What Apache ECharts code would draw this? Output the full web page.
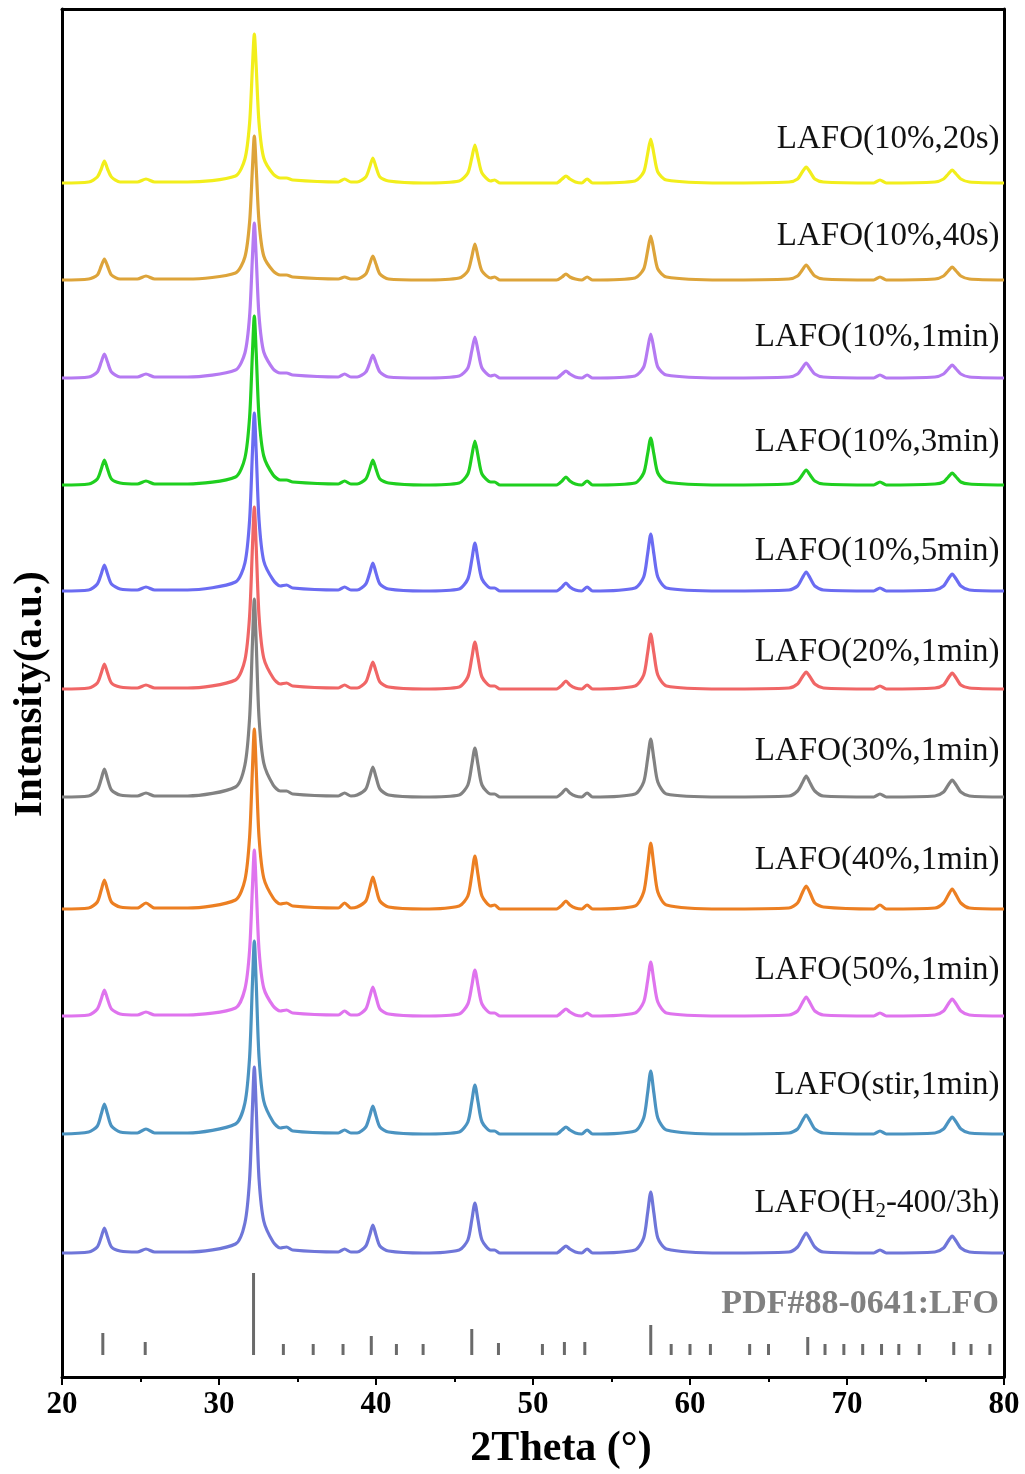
<!DOCTYPE html>
<html>
<head>
<meta charset="utf-8">
<script src="https://cdn.jsdelivr.net/npm/echarts@6/dist/echarts.min.js"></script>
<style>
html,body{margin:0;padding:0;background:#fff;}
#chart{width:1025px;height:1474px;}
</style>
</head>
<body>
<div id="chart"></div>
<script>
// ---------------- DATA ----------------
const twoTheta = [20.0, 21.7, 22.25, 22.5, 22.7, 22.9, 23.15, 23.7, 24.8, 25.35, 25.9, 28.0,
  31.05, 31.65, 31.95, 32.13, 32.25, 32.37, 32.55, 32.85, 33.45, 33.9, 34.3, 34.7,
  37.6, 38.0, 38.4, 38.8, 39.35, 39.6, 39.8, 40.0, 40.25, 40.8, 43.0,
  45.3, 45.85, 46.1, 46.3, 46.5, 46.75, 47.3, 47.55, 47.9, 50.0,
  51.5, 51.85, 52.1, 52.35, 52.7, 53.1, 53.45, 53.8,
  56.5, 57.05, 57.3, 57.5, 57.7, 57.95, 58.5, 62.0,
  66.3, 66.85, 67.15, 67.4, 67.65, 67.95, 68.5, 71.7, 72.1, 72.5,
  75.6, 76.15, 76.45, 76.7, 76.95, 77.25, 77.8, 80.0];

const sampleNames = ['LAFO(10%,20s)', 'LAFO(10%,40s)', 'LAFO(10%,1min)', 'LAFO(10%,3min)',
  'LAFO(10%,5min)', 'LAFO(20%,1min)', 'LAFO(30%,1min)', 'LAFO(40%,1min)',
  'LAFO(50%,1min)', 'LAFO(stir,1min)', 'LAFO(H2-400/3h)'];

// vertical stacking offsets (a.u.)
const offsets = [1194, 1097, 999, 892, 786, 688, 580, 468, 361, 243, 124];

const int_10_20s = [0, 1,6,14,22,14,6,1, 1,4,1, 1, 7,24,60,116,149,116,60,25,9, 5,5,3, 1,4,1, 1,6,16,25,16,6,2, 0, 2,10,25,38,25,10,2, 3,0, 0, 0,4,7,4,1, 0,4,0, 2,11,29,44,29,11,3, 0, 1,4,11,16,11,4,1, 0,3,0, 1,4,9,13,9,4,1, 0];
const int_10_40s = [0, 1,5,14,21,14,5,1, 1,4,1, 1, 7,23,58,112,144,112,58,24,9, 5,5,3, 1,3,1, 1,6,16,24,16,6,1, 0, 2,9,23,36,23,9,2, 3,0, 0, 0,3,6,3,1, 0,3,0, 2,11,29,44,29,11,3, 0, 1,4,10,15,10,4,1, 0,3,0, 1,4,9,13,9,4,1, 0];
const int_10_1min = [0, 1,6,16,24,16,6,1, 1,4,1, 1, 8,25,62,121,155,121,62,26,9, 5,5,3, 1,4,1, 1,6,15,23,15,6,1, 0, 2,10,27,41,27,10,2, 3,0, 0, 0,4,7,4,1, 0,3,0, 2,11,29,44,29,11,3, 0, 1,4,10,15,10,4,1, 0,3,0, 1,4,9,13,9,4,1, 0];
const int_10_3min = [0, 1,6,16,25,16,6,2, 1,4,1, 1, 8,27,68,132,169,132,68,29,10, 5,5,3, 1,4,1, 1,6,16,25,16,6,2, 0, 2,11,29,44,29,11,3, 3,0, 0, 0,4,8,4,1, 0,4,0, 2,12,31,47,31,12,3, 0, 1,4,10,15,10,4,1, 0,3,0, 1,3,8,12,8,3,1, 0];
const int_10_5min = [0, 1,7,17,26,17,7,2, 1,4,1, 1, 9,28,71,139,178,139,71,30,11, 5,6,3, 1,4,1, 1,7,18,28,18,7,2, 0, 2,12,31,48,31,12,3, 3,0, 0, 0,4,8,4,1, 0,4,0, 3,14,37,57,37,14,3, 0, 1,5,13,19,13,5,1, 0,3,0, 1,5,12,17,12,5,1, 0];
const int_20_1min = [0, 1,6,16,25,16,6,2, 1,4,1, 1, 9,29,73,142,182,142,73,31,11, 5,6,3, 1,4,1, 1,7,18,27,18,7,2, 0, 2,12,31,47,31,12,3, 3,0, 0, 0,4,8,4,1, 0,4,0, 3,14,36,55,36,14,3, 0, 1,5,12,17,12,5,1, 0,3,0, 1,4,11,16,11,4,1, 0];
const int_30_1min = [0, 1,7,18,28,18,7,2, 1,4,1, 1, 10,32,79,154,198,154,79,34,12, 6,6,3, 1,4,1, 2,8,20,30,20,8,2, 0, 2,12,32,49,32,12,3, 3,0, 0, 0,4,8,4,1, 0,4,0, 3,15,38,58,38,15,3, 0, 1,6,14,21,14,6,1, 0,3,0, 1,5,12,17,12,5,1, 0];
const int_40_1min = [0, 1,7,19,29,19,7,2, 1,6,1, 1, 9,29,72,140,180,140,72,31,11, 5,6,3, 1,6,1, 2,8,21,32,21,8,2, 0, 3,13,34,53,34,13,3, 4,0, 0, 0,4,8,4,1, 0,4,0, 3,17,43,66,43,17,4, 0, 1,6,16,23,16,6,2, 0,4,0, 1,6,14,20,14,6,1, 0];
const int_50_1min = [0, 1,7,17,26,17,7,2, 1,4,1, 1, 8,27,66,129,166,129,66,28,10, 5,6,3, 1,5,1, 1,7,19,29,19,7,2, 0, 2,12,30,46,30,12,3, 3,0, 0, 0,4,7,4,1, 0,3,0, 3,14,35,54,35,14,3, 0, 1,5,13,19,13,5,1, 0,3,0, 1,5,12,17,12,5,1, 0];
const int_stir_1min = [0, 2,8,20,30,20,8,2, 1,5,1, 1, 10,31,77,151,193,151,77,33,12, 6,7,3, 1,4,1, 1,7,18,28,18,7,2, 0, 2,12,32,49,32,12,3, 3,0, 0, 0,4,7,4,1, 0,4,0, 3,16,41,63,41,16,4, 0, 1,5,13,19,13,5,1, 0,3,0, 1,5,12,17,12,5,1, 0];
const int_H2_400_3h = [0, 1,6,16,25,16,6,2, 1,4,1, 1, 9,30,74,145,186,145,74,32,11, 5,6,3, 1,4,1, 1,7,18,28,18,7,2, 0, 3,13,33,50,33,13,3, 3,0, 0, 0,4,7,4,1, 0,4,0, 3,15,40,61,40,15,4, 0, 1,6,14,20,14,6,1, 0,3,0, 1,5,12,17,12,5,1, 0];

const intensities = [int_10_20s, int_10_40s, int_10_1min, int_10_3min, int_10_5min,
  int_20_1min, int_30_1min, int_40_1min, int_50_1min, int_stir_1min, int_H2_400_3h];

// reference card PDF#88-0641 (stick pattern)
const refPos = [22.6, 25.3, 32.2, 34.1, 36.0, 37.9, 39.7, 41.3, 43.0, 46.1, 47.8, 50.6, 52.0, 53.3,
  57.5, 58.8, 60.0, 61.3, 63.8, 65.0, 67.5, 68.6, 69.8, 71.0, 72.2, 73.3, 74.6, 76.8, 77.9, 79.1];
const refInt = [22, 13, 82, 11, 11, 11, 19, 11, 11, 26, 12, 11, 13, 13,
  30, 11, 11, 11, 11, 11, 18, 11, 11, 11, 11, 11, 11, 13, 11, 11];
const refBase = 22;
const refLabel = 'PDF#88-0641:LFO';

const xTicks = [20, 30, 40, 50, 60, 70, 80];

// ---------------- STYLE ----------------
const colors = ['#f2ee1c', '#dda43a', '#b57af2', '#1fcf1f', '#6b6cf2', '#f06666',
  '#828282', '#ec7f22', '#df74ee', '#4b93c1', '#6f76d9'];
const labelLift = [44, 44, 41, 43, 40, 37, 46, 49, 46, 49, 50];
const serif = '"Liberation Serif", "Times New Roman", serif';

const series = intensities.map((arr, i) => {
  const isH2 = sampleNames[i].indexOf('H2') >= 0;
  return {
    type: 'line',
    name: sampleNames[i],
    data: twoTheta.map((t, k) => [t, offsets[i] + arr[k]]),
    symbol: 'none',
    smooth: 0.25,
    lineStyle: { color: colors[i], width: 3.2 },
    itemStyle: { color: colors[i] },
    z: 2 + i,
    animation: false,
    markPoint: {
      symbol: 'circle', symbolSize: 1,
      itemStyle: { color: 'rgba(0,0,0,0)' },
      data: [{ coord: [79.75, offsets[i] + labelLift[i]] }],
      label: {
        show: true, position: 'left', distance: 0,
        formatter: isH2 ? 'LAFO(H{sub|2}-400/3h)' : sampleNames[i],
        color: '#111', fontFamily: serif, fontSize: 33,
        rich: { sub: { fontSize: 21, fontFamily: serif, color: '#111', padding: [16, 0, 0, 0] } }
      }
    }
  };
});

series.push({
  type: 'custom',
  name: 'ref',
  data: refPos.map((p, k) => [p, refInt[k]]),
  renderItem: function (params, api) {
    const p0 = api.coord([api.value(0), refBase]);
    const p1 = api.coord([api.value(0), refBase + api.value(1)]);
    return { type: 'line', shape: { x1: p0[0], y1: p0[1], x2: p1[0], y2: p1[1] },
      style: { stroke: '#6a6a6a', lineWidth: 3 } };
  },
  animation: false,
  z: 1
});

const chart = echarts.init(document.getElementById('chart'), null, { renderer: 'canvas' });
chart.setOption({
  backgroundColor: '#fff',
  animation: false,
  grid: { left: 62, right: 21, top: 9, bottom: 97 },
  xAxis: [{
    type: 'value', min: xTicks[0], max: xTicks[xTicks.length - 1], interval: 10,
    axisLine: { show: true, lineStyle: { color: '#000', width: 3 } },
    axisTick: { show: true, inside: false, length: 8, lineStyle: { color: '#000', width: 2 } },
    minorTick: { show: true, splitNumber: 2, length: 5, lineStyle: { color: '#000', width: 2 } },
    splitLine: { show: false },
    axisLabel: { color: '#000', fontFamily: serif, fontWeight: 'bold', fontSize: 31, margin: 12 }
  }, {
    type: 'value', position: 'top', min: 20, max: 80,
    axisLine: { show: true, onZero: false, lineStyle: { color: '#000', width: 3 } },
    axisTick: { show: false }, axisLabel: { show: false }, splitLine: { show: false }
  }],
  yAxis: [{
    type: 'value', min: 0, max: 1368,
    axisLine: { show: true, lineStyle: { color: '#000', width: 3 } },
    axisTick: { show: false }, axisLabel: { show: false }, splitLine: { show: false }
  }, {
    type: 'value', position: 'right', min: 0, max: 1368,
    axisLine: { show: true, onZero: false, lineStyle: { color: '#000', width: 3 } },
    axisTick: { show: false }, axisLabel: { show: false }, splitLine: { show: false }
  }],
  graphic: [
    { type: 'text', x: 561, y: 1449, style: { text: '2Theta (°)', font: 'bold 42px ' + serif,
        fill: '#000', align: 'center', verticalAlign: 'middle' } },
    { type: 'text', x: 30, y: 694, rotation: Math.PI / 2, style: { text: 'Intensity(a.u.)',
        font: 'bold 41px ' + serif, fill: '#000', align: 'center', verticalAlign: 'middle' } },
    { type: 'text', right: 26, top: 1287, style: { text: refLabel, font: 'bold 34px ' + serif,
        fill: '#808080' } }
  ],
  series: series
});
</script>
</body>
</html>
